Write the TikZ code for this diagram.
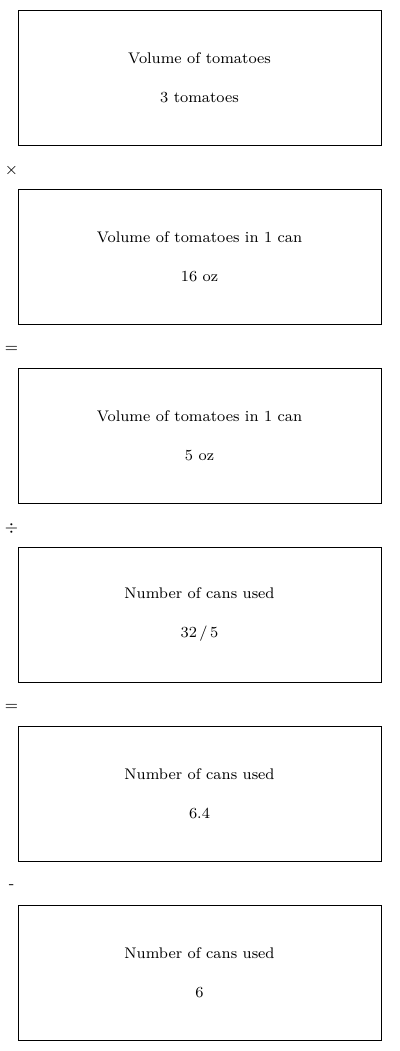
\documentclass[tikz,border=0pt]{standalone}
\usepackage{tikz}
\usetikzlibrary{positioning}
\tikzstyle{stage} = [rectangle, draw=black, line width=0.5pt, minimum width=181.5pt, minimum height=67.5pt, align=center, inner sep=0pt, font=\fontsize{7.7}{19.5}\selectfont]
\tikzstyle{op} = [inner sep=0pt, font=\fontsize{7.7}{9}\selectfont]

\begin{document}
\begin{tikzpicture}[node distance=21.5pt]
\useasboundingbox (0,0) rectangle (200pt,-525.5pt);
\node[stage] (vol) at (99.75pt,-38.75pt) {Volume of tomatoes\\3 tomatoes};
\node[stage, below=of vol] (can) {Volume of tomatoes in 1 can\\16 oz};
\node[stage, below=of can] (canb) {Volume of tomatoes in 1 can\\5 oz};
\node[stage, below=of canb] (frac) {Number of cans used\\32\,/\,5};
\node[stage, below=of frac] (dec) {Number of cans used\\6.4};
\node[stage, below=of dec] (whole) {Number of cans used\\6};

\node[op] (times) at ([xshift=-3pt,yshift=-12.5pt]vol.south west) {$\times$};
\node[op] (eqa) at ([xshift=-3pt,yshift=-12.5pt]can.south west) {$=$};
\node[op] (divd) at ([xshift=-3pt,yshift=-12.5pt]canb.south west) {$\div$};
\node[op] (eqb) at ([xshift=-3pt,yshift=-12.5pt]frac.south west) {$=$};
\node[op] (minus) at ([xshift=-3pt,yshift=-12.5pt]dec.south west) {-};
\end{tikzpicture}
\end{document}
